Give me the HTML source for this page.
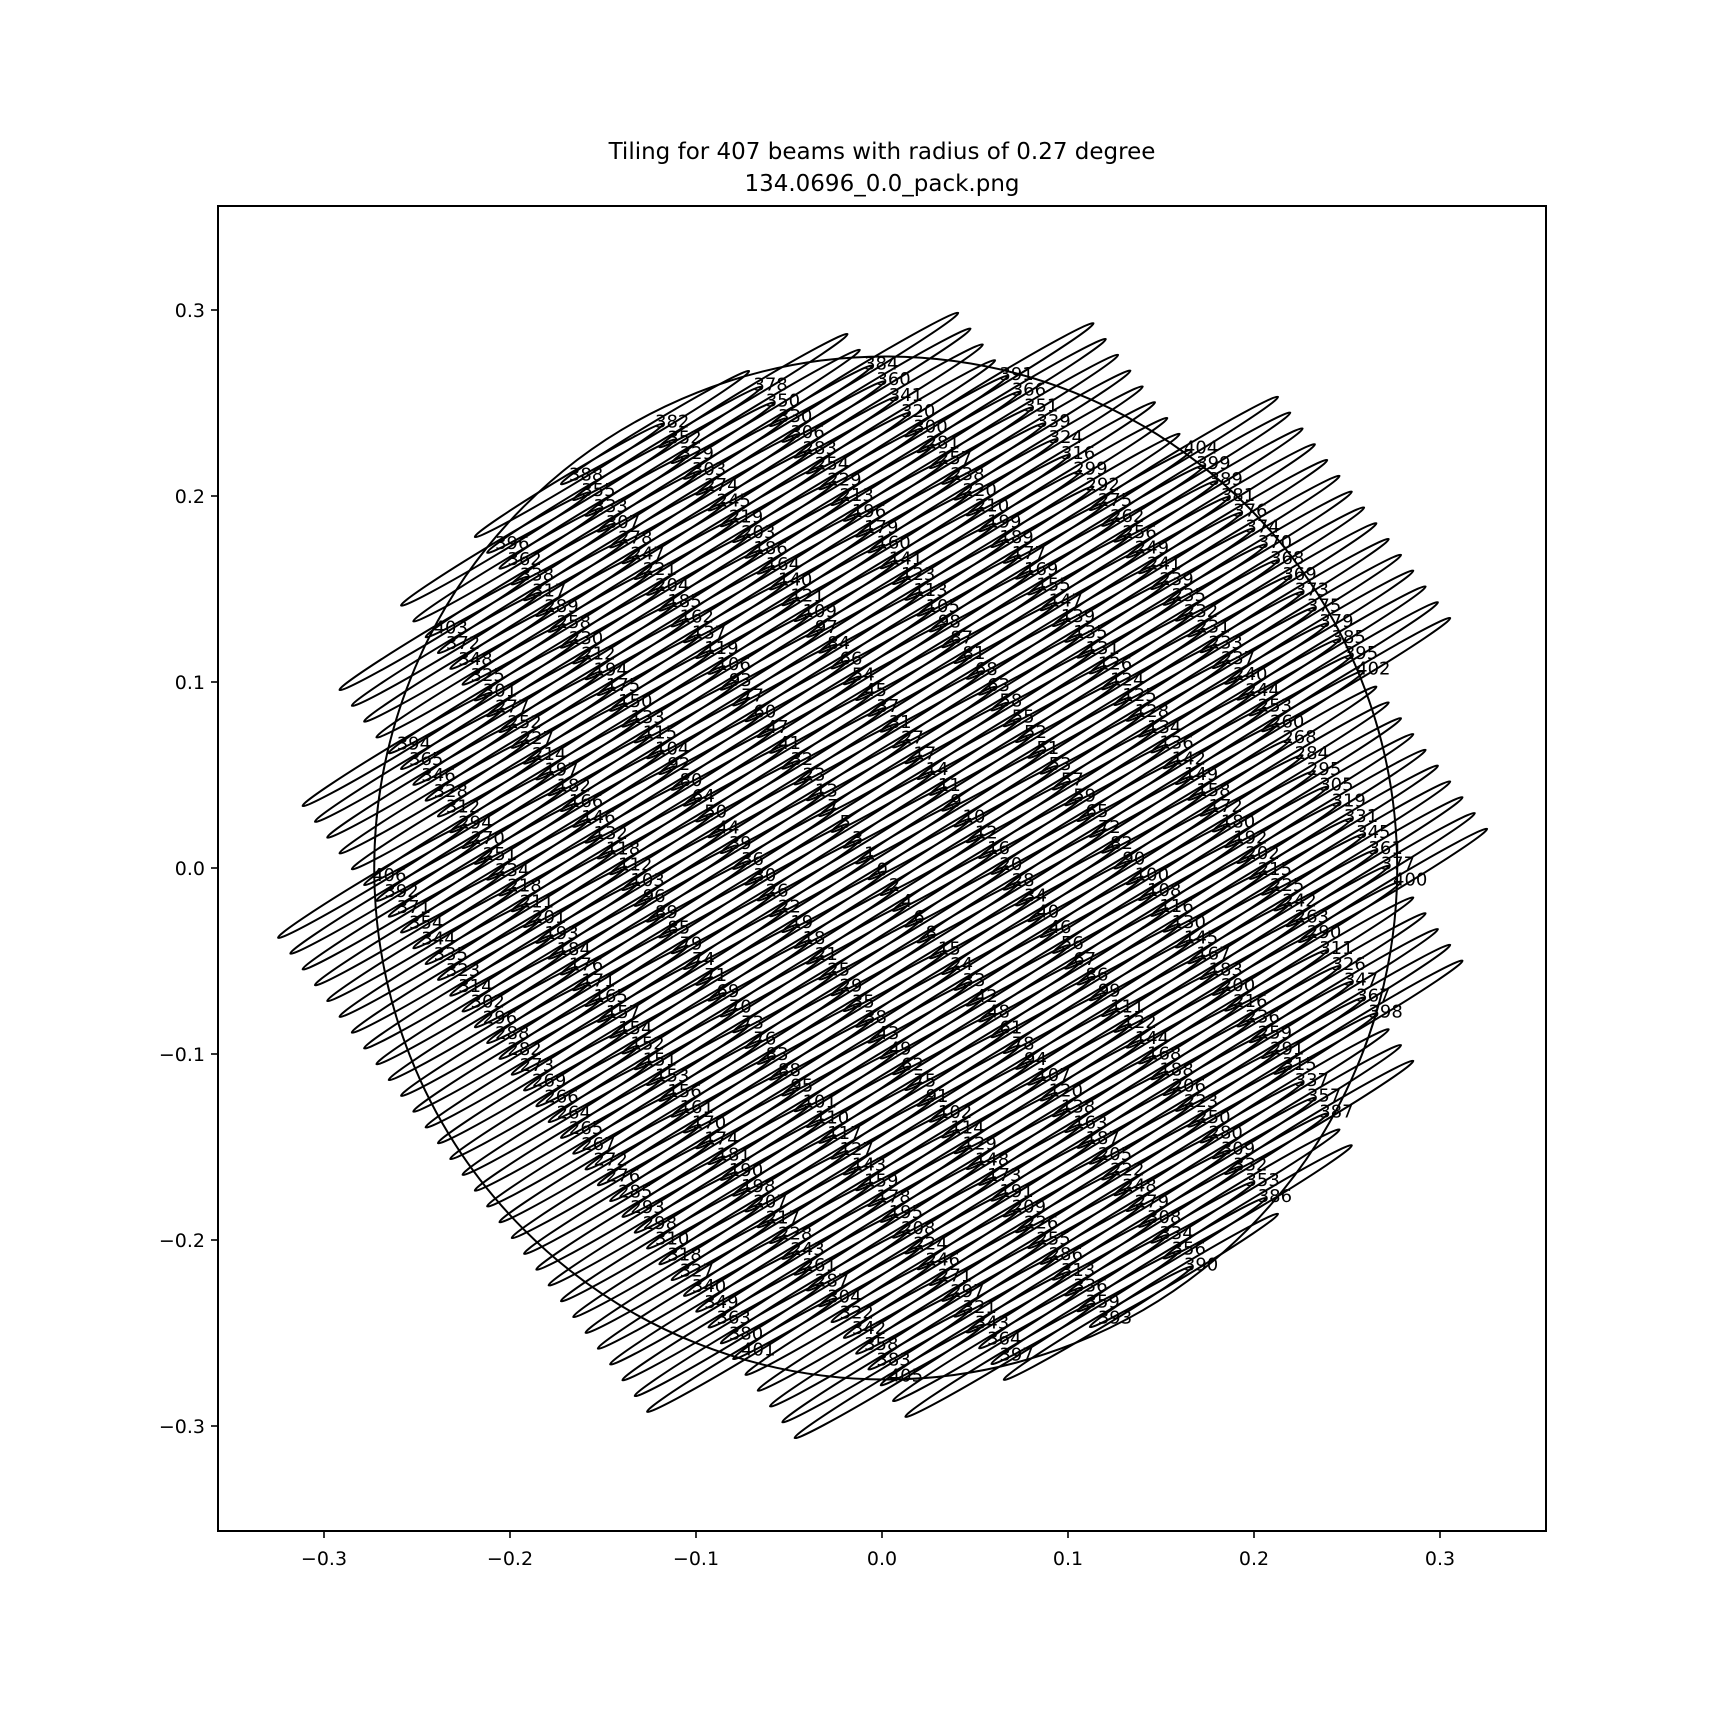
<!DOCTYPE html>
<html>
<head>
<meta charset="utf-8">
<style>
  html,body{margin:0;padding:0;background:#fff;}
  svg{display:block;}
  text{font-family:"DejaVu Sans","Liberation Sans",sans-serif;fill:#000;}
</style>
</head>
<body>
<svg id="chart" width="1720" height="1720" viewBox="0 0 1720 1720" xmlns="http://www.w3.org/2000/svg">
  <rect x="0" y="0" width="1720" height="1720" fill="#fff"/>
  <text x="882" y="159" font-size="23" text-anchor="middle">Tiling for 407 beams with radius of 0.27 degree</text>
  <text x="882" y="191" font-size="23" text-anchor="middle">134.0696_0.0_pack.png</text>
  <g id="plot"></g>
  <g id="axes"></g>
</svg>
<script>
// ---- chart data ----
const xTicks = [-0.3, -0.2, -0.1, 0.0, 0.1, 0.2, 0.3];
const yTicks = [-0.3, -0.2, -0.1, 0.0, 0.1, 0.2, 0.3];
const xTickLabels = ["\u22120.3", "\u22120.2", "\u22120.1", "0.0", "0.1", "0.2", "0.3"];
const yTickLabels = ["\u22120.3", "\u22120.2", "\u22120.1", "0.0", "0.1", "0.2", "0.3"];
const beamCount = 407;
const latticeA = [0.006613, -0.008495];
const latticeB = [0.06613, 0.002903];
const latticeOrigin = [-0.003, -0.004];
const beamSemiMajor = [0.059];
const beamSemiMinor = [0.003];
const beamAngleDeg = [31];
const tilingCircle = [0.002, 0.0, 0.275]; // cx, cy, radius

// ---- axis functions ----
const X0 = 882, Y0 = 868, S = 1860;
const AX_L = 218, AX_R = 1546, AX_T = 206, AX_B = 1531;
function sx(v){ return X0 + v * S; }
function sy(v){ return Y0 - v * S; }
const NS = "http://www.w3.org/2000/svg";
function mk(tag, attrs){
  const e = document.createElementNS(NS, tag);
  for (const k in attrs) e.setAttribute(k, attrs[k]);
  return e;
}

const plot = document.getElementById('plot');
const axes = document.getElementById('axes');

// ---- beams from lattice ----
const cand = [];
for (let m = -80; m <= 80; m++) {
  for (let n = -12; n <= 12; n++) {
    const x = latticeOrigin[0] + m * latticeA[0] + n * latticeB[0];
    const y = latticeOrigin[1] + m * latticeA[1] + n * latticeB[1];
    const d = Math.hypot(x - tilingCircle[0], y - tilingCircle[1]);
    if (d < 0.4) cand.push({x: x, y: y, d: d});
  }
}
cand.sort((p, q) => p.d - q.d);
const beams = cand.slice(0, beamCount);

const rx = beamSemiMajor[0] * S, ry = beamSemiMinor[0] * S;
beams.forEach((b, i) => {
  const cx = sx(b.x), cy = sy(b.y);
  const el = mk('ellipse', {cx: cx.toFixed(2), cy: cy.toFixed(2), rx: rx.toFixed(2), ry: ry.toFixed(2),
    transform: 'rotate(' + (-beamAngleDeg[0]) + ' ' + cx.toFixed(2) + ' ' + cy.toFixed(2) + ')',
    fill: 'none', stroke: '#000', 'stroke-width': '2'});
  
  
  plot.appendChild(el);
});
beams.forEach((b, i) => {
  const t = mk('text', {x: sx(b.x).toFixed(2), y: sy(b.y).toFixed(2), 'font-size': '18'});
  t.textContent = String(i);
  
  
  plot.appendChild(t);
});

// ---- tiling circle ----
const circ = mk('circle', {cx: sx(tilingCircle[0]), cy: sy(tilingCircle[1]), r: tilingCircle[2] * S, fill: 'none', stroke: '#000', 'stroke-width': '2'});


plot.appendChild(circ);

// ---- axes frame ----
const frame = mk('rect', {x: AX_L, y: AX_T, width: AX_R - AX_L, height: AX_B - AX_T, fill: 'none', stroke: '#000', 'stroke-width': '2'});


axes.appendChild(frame);

xTicks.forEach((v, i) => {
  const x = sx(v);
  const tk = mk('line', {x1: x, y1: AX_B, x2: x, y2: AX_B + 7, stroke: '#000', 'stroke-width': '1.6'});
  
  
  axes.appendChild(tk);
  const lb = mk('text', {x: x, y: 1565, 'font-size': '19', 'text-anchor': 'middle'});
  lb.textContent = xTickLabels[i];
  
  
  axes.appendChild(lb);
});
yTicks.forEach((v, i) => {
  const y = sy(v);
  const tk = mk('line', {x1: AX_L - 7, y1: y, x2: AX_L, y2: y, stroke: '#000', 'stroke-width': '1.6'});
  
  
  axes.appendChild(tk);
  const lb = mk('text', {x: AX_L - 13, y: y + 7, 'font-size': '19', 'text-anchor': 'end'});
  lb.textContent = yTickLabels[i];
  
  
  axes.appendChild(lb);
});
</script>
</body>
</html>
